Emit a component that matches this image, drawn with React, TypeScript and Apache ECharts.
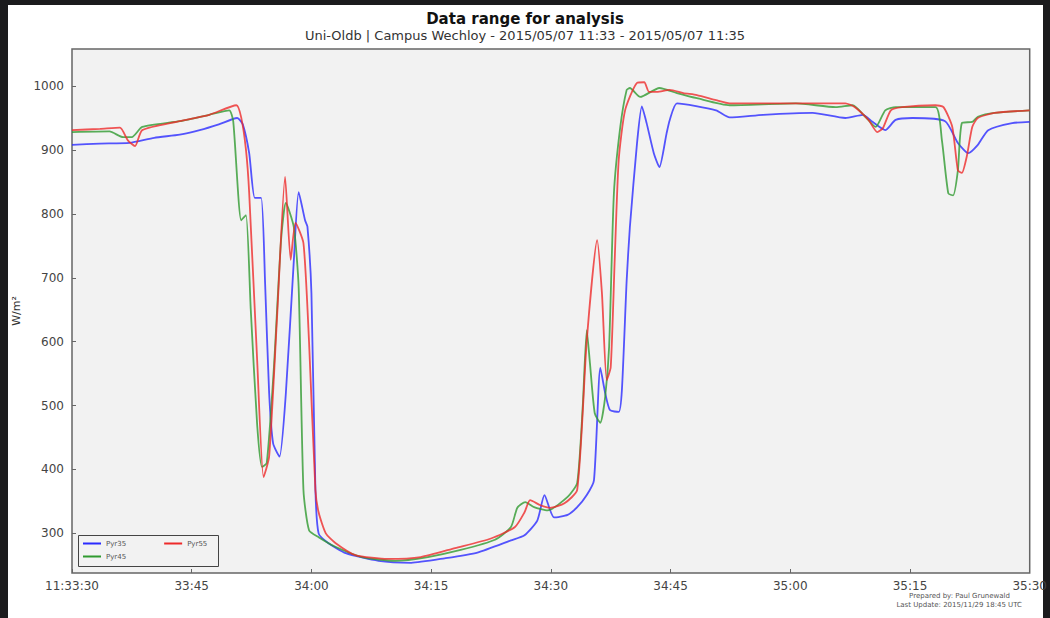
import React, { useEffect, useRef } from "react";
import * as echarts from "echarts";

// time offsets in seconds from 11:33:30, and irradiance values in W/m²
const pyr35T = [0, 3.5, 7.2, 10.3, 13.5, 16.0, 18.4, 20.7, 21.4, 22.2, 22.9, 23.7, 24.2, 24.7, 25.2, 26.0, 26.8, 27.8, 28.4, 29.2, 29.5, 30.0, 30.5, 30.9, 32.1, 34.3, 38.4, 42.5, 46.7, 50.8, 55.0, 56.7, 58.3, 59.2, 60.4, 62.1, 63.3, 64.5, 65.4, 66.2, 66.8, 67.4, 68.5, 68.9, 69.5, 69.9, 70.8, 71.4, 72.0, 72.9, 73.6, 74.5, 74.9, 75.8, 80.7, 82.4, 86.6, 92.8, 96.9, 99.1, 100.3, 101.9, 103.2, 105.3, 109.4, 111.0, 112.3, 113.5, 114.8, 117.8, 120.0];
const pyr35V = [908, 910, 911, 919, 924, 931, 940, 950, 940, 895, 825, 825, 690, 520, 441, 420, 520, 728, 834, 790, 780, 676, 368, 300, 285, 269, 257, 254, 261, 270, 289, 297, 320, 360, 325, 329, 341, 360, 383, 559, 520, 493, 490, 524, 696, 779, 911, 968, 942, 895, 873, 926, 947, 973, 962, 951, 955, 958, 950, 955, 944, 931, 947, 950, 945, 911, 895, 908, 931, 942, 944];

const pyr45T = [0, 4.7, 6.4, 7.5, 8.8, 13.5, 17.2, 19.7, 20.2, 21.2, 21.8, 22.4, 23.2, 23.8, 24.4, 25.3, 26.2, 26.8, 27.8, 28.4, 29.0, 29.7, 30.9, 33.0, 36.3, 40.5, 44.6, 48.7, 53.0, 55.0, 55.8, 56.8, 57.9, 59.6, 62.1, 63.3, 64.0, 64.5, 64.9, 65.5, 66.2, 66.8, 67.3, 67.9, 68.7, 69.5, 69.9, 71.2, 73.6, 75.8, 78.3, 82.4, 90.7, 95.7, 97.8, 99.4, 100.7, 101.9, 103.2, 108.2, 109.0, 109.8, 110.4, 111.0, 111.5, 112.8, 113.5, 115.6, 120.0];
const pyr45V = [928, 929, 920, 920, 936, 945, 955, 962, 945, 790, 798, 650, 470, 404, 410, 560, 760, 817, 779, 685, 368, 305, 294, 279, 263, 257, 263, 274, 290, 310, 340, 349, 341, 336, 357, 379, 500, 618, 566, 488, 473, 513, 592, 832, 936, 994, 997, 983, 997, 989, 981, 970, 973, 967, 970, 952, 936, 962, 967, 967, 915, 832, 829, 868, 942, 944, 952, 958, 962];

const pyr55T = [0, 3.5, 6.0, 7.0, 7.9, 8.8, 13.5, 17.2, 20.6, 21.2, 21.8, 22.2, 23.2, 24.0, 24.7, 25.7, 26.7, 27.4, 28.0, 29.0, 29.7, 30.5, 30.9, 31.8, 33.0, 35.5, 39.6, 43.7, 48.0, 52.5, 55.5, 56.7, 57.4, 58.7, 59.9, 61.7, 63.3, 64.5, 65.8, 66.4, 67.0, 67.5, 68.0, 68.5, 69.3, 70.8, 71.7, 72.3, 73.3, 74.9, 76.6, 78.3, 80.7, 82.4, 96.9, 98.1, 99.8, 100.9, 101.6, 102.6, 104.0, 108.2, 109.2, 110.3, 111.0, 111.5, 112.1, 112.8, 113.5, 115.6, 120.0];
const pyr55V = [931, 933, 935, 915, 906, 931, 945, 955, 970, 951, 900, 833, 571, 388, 420, 640, 858, 728, 786, 754, 600, 368, 333, 300, 285, 266, 260, 263, 277, 292, 310, 333, 352, 344, 340, 347, 368, 602, 759, 676, 540, 560, 728, 884, 962, 1005, 1006, 991, 991, 994, 989, 986, 978, 973, 973, 967, 947, 928, 934, 962, 967, 970, 967, 936, 868, 864, 889, 936, 950, 958, 962];

const seriesNames = ["Pyr35", "Pyr45", "Pyr55"];
const seriesColors = ["#2a2aff", "#2f9a2f", "#ee2a2a"];
const xTickLabels = ["11:33:30", "33:45", "34:00", "34:15", "34:30", "34:45", "35:00", "35:15", "35:30"];
const yTickValues = [300, 400, 500, 600, 700, 800, 900, 1000];

const zip = (t: number[], v: number[]) => t.map((x, i) => [x, v[i]]);

export default function App() {
  const ref = useRef<HTMLDivElement>(null);
  useEffect(() => {
    document.body.style.margin = "0";
    const chart = echarts.init(ref.current!, null, { renderer: "svg" });
    const data = [zip(pyr35T, pyr35V), zip(pyr45T, pyr45V), zip(pyr55T, pyr55V)];
    const font = "DejaVu Sans";
    const legendBase = {
      orient: "horizontal",
      itemWidth: 18,
      itemHeight: 2,
      itemGap: 38,
      icon: "rect",
      padding: 0,
      textStyle: { fontFamily: font, fontSize: 7, color: "#555" },
    };
    chart.setOption({
      animation: false,
      backgroundColor: "#ffffff",
      title: {
        text: "Data range for analysis",
        subtext: "Uni-Oldb | Campus Wechloy - 2015/05/07 11:33 - 2015/05/07 11:35",
        left: "center",
        top: 6,
        itemGap: 3,
        textStyle: { fontFamily: font, fontSize: 15, fontWeight: "bold", color: "#111" },
        subtextStyle: { fontFamily: font, fontSize: 13, color: "#333" },
      },
      grid: {
        left: 72,
        right: 15,
        top: 49,
        bottom: 45,
        show: true,
        backgroundColor: "#f2f2f2",
        borderColor: "#666",
        borderWidth: 1.5,
      },
      legend: [
        { ...legendBase, data: [seriesNames[0], seriesNames[2]], left: 83, top: 540 },
        { ...legendBase, data: [seriesNames[1]], left: 83, top: 553 },
      ],
      xAxis: {
        type: "value",
        min: 0,
        max: 120,
        interval: 15,
        axisLine: { show: false },
        splitLine: { show: false },
        axisTick: { show: true, inside: true, length: 4, lineStyle: { color: "#666" } },
        axisLabel: {
          fontFamily: font,
          fontSize: 12,
          color: "#444",
          margin: 7,
          formatter: (v: number) => xTickLabels[Math.round(v / 15)] ?? "",
        },
      },
      yAxis: {
        type: "value",
        min: 238,
        max: 1058,
        name: "W/m²",
        nameLocation: "middle",
        nameRotate: 90,
        nameGap: 50,
        nameTextStyle: { fontFamily: font, fontSize: 11, color: "#333" },
        axisLine: { show: false },
        splitLine: { show: false },
        axisTick: { show: true, inside: true, length: 4, customValues: yTickValues, lineStyle: { color: "#666" } },
        axisLabel: {
          fontFamily: font,
          fontSize: 12,
          color: "#444",
          margin: 8,
          customValues: yTickValues,
          formatter: (v: number) => String(v),
        },
      },
      series: seriesNames.map((n, i) => ({
        name: n,
        type: "line",
        data: data[i],
        showSymbol: false,
        symbol: "none",
        smooth: 0.2,
        color: seriesColors[i],
        lineStyle: { width: 1.8, opacity: 0.8, color: seriesColors[i] },
      })),
      graphic: [
        { type: "rect", shape: { x: 0, y: 0, width: 1050, height: 5 }, style: { fill: "#1b1b1d" } },
        { type: "rect", shape: { x: 0, y: 0, width: 8, height: 618 }, style: { fill: "#1b1b1d" } },
        { type: "rect", shape: { x: 1043, y: 0, width: 7, height: 618 }, style: { fill: "#1b1b1d" } },
        {
          type: "rect",
          z: 0,
          shape: { x: 78.5, y: 535.5, width: 140, height: 31 },
          style: { fill: "#f2f2f2", stroke: "#444", lineWidth: 1 },
        },
        {
          type: "text",
          x: 1010,
          y: 592,
          style: { text: "Prepared by: Paul Grunewald", fontFamily: font, fontSize: 7, fill: "#555", align: "right" },
        },
        {
          type: "text",
          x: 1022,
          y: 601,
          style: { text: "Last Update: 2015/11/29 18:45 UTC", fontFamily: font, fontSize: 7, fill: "#555", align: "right" },
        },
      ],
    });
    return () => chart.dispose();
  }, []);
  return <div ref={ref} style={{ width: 1050, height: 618 }} />;
}
